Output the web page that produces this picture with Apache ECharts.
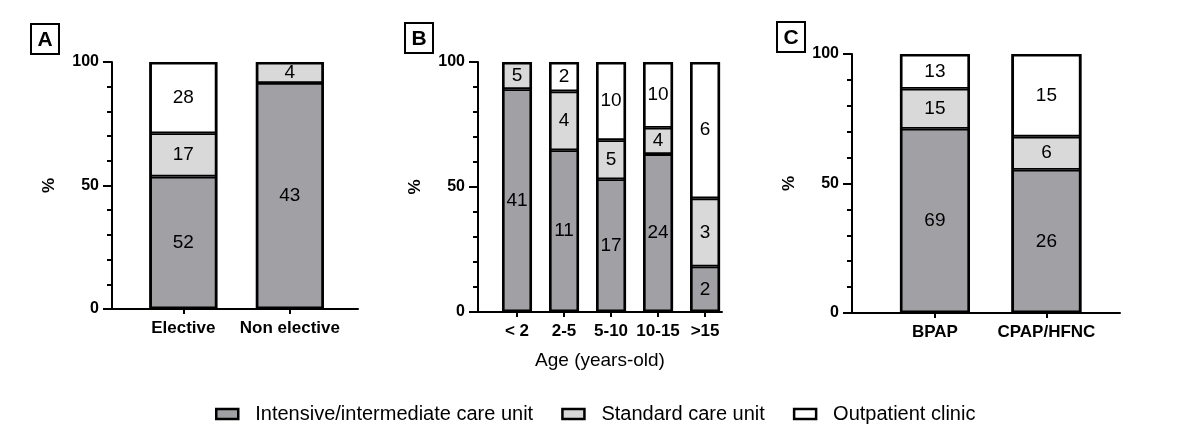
<!DOCTYPE html>
<html>
<head>
<meta charset="utf-8">
<script src="https://cdn.jsdelivr.net/npm/echarts@6/dist/echarts.min.js"></script>
<style>
  html, body { margin: 0; padding: 0; background: #fff; }
  #chart { width: 1200px; height: 439px; }
</style>
</head>
<body>
<div id="chart"></div>
<script>
// Patient counts per destination, three panels
const seriesNames = ['Intensive/intermediate care unit', 'Standard care unit', 'Outpatient clinic'];

// Panel A: type of admission
const groupsA = ['Elective', 'Non elective'];
const icuA = [52, 43];
const wardA = [17, 4];
const clinicA = [28, 0];

// Panel B: age groups
const groupsB = ['< 2', '2-5', '5-10', '10-15', '>15'];
const icuB = [41, 11, 17, 24, 2];
const wardB = [5, 4, 5, 4, 3];
const clinicB = [0, 2, 10, 10, 6];

// Panel C: ventilation support
const groupsC = ['BPAP', 'CPAP/HFNC'];
const icuC = [69, 26];
const wardC = [15, 6];
const clinicC = [13, 15];

const yTicks = [0, 50, 100];

const COLORS = ['#a1a1a5', '#d9d9d9', '#ffffff'];
const FONT = '"Liberation Sans", Arial, sans-serif';

// Convert counts of a panel into stacked percentage bars (label = count).
// Each item is [percent, position]; the percent column comes first so it is the stacked one.
function buildPanelSeries(panelIndex, groups, countLists, barWidth) {
  const totals = groups.map((g, i) => countLists.reduce((s, arr) => s + arr[i], 0));
  const pct = countLists.map(counts => groups.map((g, i) => counts[i] / totals[i] * 100));
  const segments = countLists.map((counts, k) => ({
    name: seriesNames[k],
    type: 'bar',
    stack: 'p' + panelIndex,
    xAxisIndex: panelIndex,
    yAxisIndex: panelIndex,
    encode: { y: 0, x: 1 },
    barWidth: barWidth,
    barGap: '-100%',
    itemStyle: { color: COLORS[k], borderColor: '#000', borderWidth: 1.8 },
    label: {
      show: true,
      position: 'inside',
      color: '#000',
      fontFamily: FONT,
      fontSize: 19,
      formatter: p => (p.data && p.data.count ? String(p.data.count) : '')
    },
    emphasis: { disabled: true },
    data: groups.map((g, i) => counts[i] > 0
      ? { value: [pct[k][i], i + 1], count: counts[i] }
      : { value: [null, i + 1], count: 0 })
  }));
  // Outer frame of each whole column (sum of all segments)
  const frame = {
    name: 'frame' + panelIndex,
    type: 'bar',
    xAxisIndex: panelIndex,
    yAxisIndex: panelIndex,
    encode: { y: 0, x: 1 },
    barWidth: barWidth,
    barGap: '-100%',
    z: 3,
    silent: true,
    itemStyle: { color: 'rgba(0,0,0,0)', borderColor: '#000', borderWidth: 2.6 },
    label: { show: false },
    emphasis: { disabled: true },
    data: groups.map((g, i) => [pct.reduce((s, arr) => s + arr[i], 0), i + 1])
  };
  return [...segments, frame];
}

function xAxisFor(gridIndex, groups, min, max, name) {
  const pos = groups.map((g, i) => i + 1);
  return {
    gridIndex: gridIndex,
    type: 'value',
    min: min,
    max: max,
    name: name || '',
    nameLocation: 'middle',
    nameGap: 39,
    nameTextStyle: { color: '#000', fontFamily: FONT, fontSize: 19 },
    splitLine: { show: false },
    axisLine: { show: true, onZero: false, lineStyle: { color: '#000', width: 2 } },
    axisTick: { show: true, length: 5, customValues: pos, lineStyle: { color: '#000', width: 2 } },
    axisLabel: {
      customValues: pos,
      margin: 11,
      color: '#000',
      fontFamily: FONT,
      fontWeight: 'bold',
      fontSize: 17,
      formatter: v => groups[Math.round(v) - 1] || ''
    }
  };
}

function yAxisFor(gridIndex) {
  return {
    gridIndex: gridIndex,
    type: 'value',
    min: yTicks[0],
    max: yTicks[yTicks.length - 1],
    interval: yTicks[1] - yTicks[0],
    name: '%',
    nameLocation: 'middle',
    nameGap: 54,
    nameTextStyle: { color: '#000', fontFamily: FONT, fontWeight: 'bold', fontSize: 17 },
    splitLine: { show: false },
    axisLine: { show: true, lineStyle: { color: '#000', width: 2 } },
    axisTick: { show: true, length: 9, lineStyle: { color: '#000', width: 2 } },
    minorTick: { show: true, splitNumber: 5, length: 5, lineStyle: { color: '#000', width: 2 } },
    axisLabel: { margin: 13, color: '#000', fontFamily: FONT, fontWeight: 'bold', fontSize: 16 }
  };
}

function panelTag(letter, left, top) {
  return {
    type: 'group',
    left: left,
    top: top,
    children: [
      { type: 'rect', shape: { x: 0, y: 0, width: 28, height: 30 },
        style: { fill: '#fff', stroke: '#000', lineWidth: 2 } },
      { type: 'text', x: 14, y: 16,
        style: { text: letter, textAlign: 'center', textVerticalAlign: 'middle',
                 font: 'bold 21px ' + FONT, fill: '#000' } }
    ]
  };
}

const chart = echarts.init(document.getElementById('chart'), null, { renderer: 'canvas' });

chart.setOption({
  backgroundColor: '#fff',
  animation: false,
  grid: [
    { left: 112, top: 62, width: 246, height: 247 },
    { left: 478, top: 62, width: 244, height: 250 },
    { left: 852, top: 54, width: 268, height: 259 }
  ],
  xAxis: [
    xAxisFor(0, groupsA, 0.33, 2.64),
    xAxisFor(1, groupsB, 0.17, 5.36, 'Age (years-old)'),
    xAxisFor(2, groupsC, 0.256, 2.66)
  ],
  yAxis: [yAxisFor(0), yAxisFor(1), yAxisFor(2)],
  legend: {
    data: seriesNames,
    left: 210,
    top: 399,
    icon: 'rect',
    itemWidth: 22,
    itemHeight: 10,
    itemGap: 28,
    selectedMode: false,
    itemStyle: { borderColor: '#000', borderWidth: 2.5 },
    textStyle: { color: '#000', fontFamily: FONT, fontSize: 20, padding: [0, 0, 0, 12] }
  },
  graphic: [
    panelTag('A', 30, 23),
    panelTag('B', 404, 22),
    panelTag('C', 776, 21)
  ],
  series: [
    ...buildPanelSeries(0, groupsA, [icuA, wardA, clinicA], 68),
    ...buildPanelSeries(1, groupsB, [icuB, wardB, clinicB], 30),
    ...buildPanelSeries(2, groupsC, [icuC, wardC, clinicC], 70)
  ]
});
</script>
</body>
</html>
